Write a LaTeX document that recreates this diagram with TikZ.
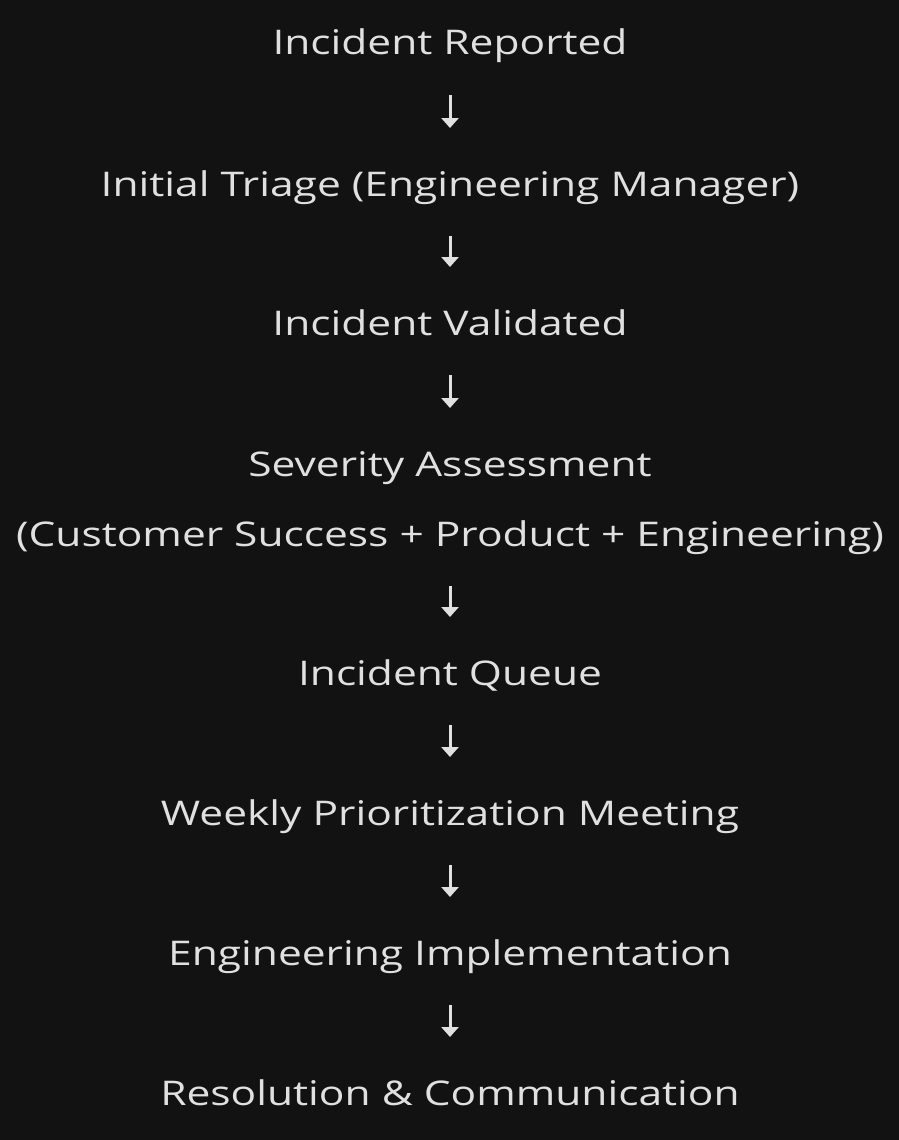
\documentclass[tikz,border=0pt]{standalone}
\usepackage{fontspec}
\setmainfont{Open Sans}[FakeStretch=1.25]
\usetikzlibrary{arrows.meta}
\definecolor{bgdark}{HTML}{121212}
\definecolor{inktext}{HTML}{E0E0E0}
\tikzset{
	stage/.style={anchor=base, inner sep=0pt, text=inktext, font=\fontsize{34}{40}\selectfont},
	flow/.style={-{Triangle[width=17pt,length=10pt]}, line width=3pt, draw=inktext, shorten <=40pt, shorten >=68pt}
}
\begin{document}
\begin{tikzpicture}[x=1pt,y=1pt]
			% Background
			\useasboundingbox (0,0) rectangle (899,-1140);
			\fill[bgdark] (0,0) rectangle (899,-1140);

			% Stages
			\node[stage] (rep) at (450,-55) {Incident Reported};
			\node[stage] (tri) at (450,-196) {Initial Triage (Engineering Manager)};
			\node[stage] (val) at (450,-335) {Incident Validated};
			\node[stage] (sev) at (450,-476) {Severity Assessment};
			\node[stage] (sevteam) at (450,-546) {(Customer Success + Product + Engineering)};
			\node[stage] (que) at (450,-685) {Incident Queue};
			\node[stage] (meet) at (450,-825) {Weekly Prioritization Meeting};
			\node[stage] (impl) at (450,-965) {Engineering Implementation};
			\node[stage] (res) at (450,-1105) {Resolution \& Communication};

			% Flow
			\draw[flow] (rep.base) -- (tri.base);
			\draw[flow] (tri.base) -- (val.base);
			\draw[flow] (val.base) -- (sev.base);
			\draw[flow] (sevteam.base) -- (que.base);
			\draw[flow] (que.base) -- (meet.base);
			\draw[flow] (meet.base) -- (impl.base);
			\draw[flow] (impl.base) -- (res.base);
		\end{tikzpicture}
\end{document}
